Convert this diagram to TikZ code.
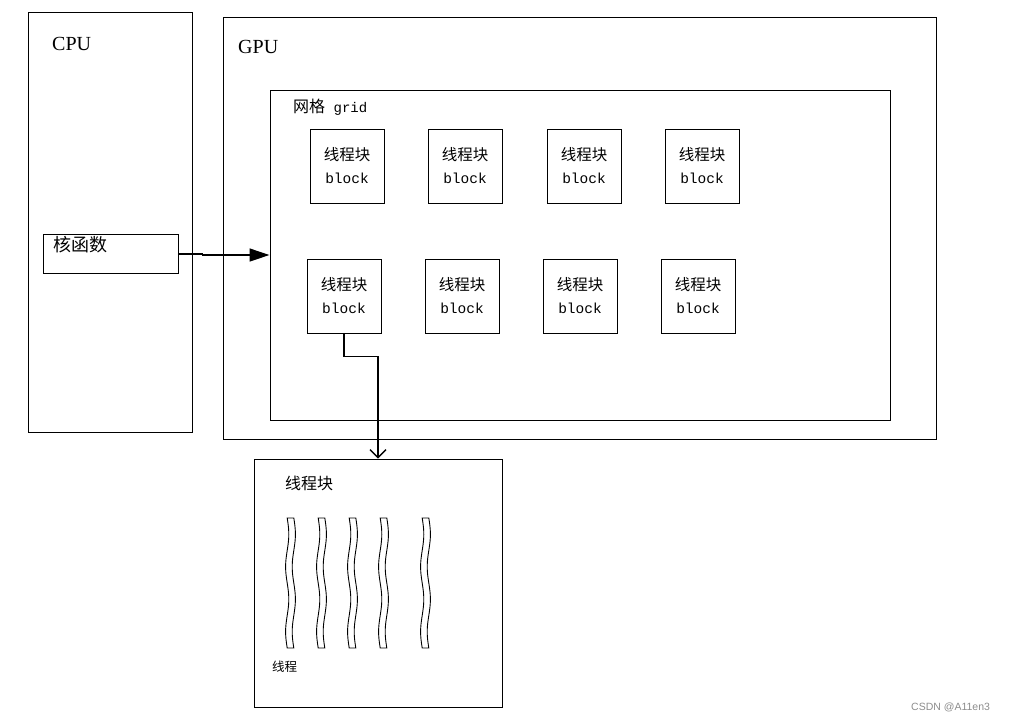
\documentclass[tikz,border=0pt]{standalone}
\usepackage{fontspec}
\setmainfont{Liberation Serif}
\newfontfamily\cjk{Noto Sans CJK SC}
\newfontfamily\monofont{Liberation Mono}
\newfontfamily\marksans{Liberation Sans}
\usetikzlibrary{arrows.meta}
\usetikzlibrary{positioning}

\begin{document}
\begin{tikzpicture}
[x = 1pt, y = -1pt, line cap = round,
frame/.style = {draw = linecolor, line width = 1pt, inner sep = 0pt},
blockbox/.style = {frame, minimum width = 74pt, minimum height = 74pt, align = center, font = \fontsize{15.5}{23}\selectfont},
title text/.style = {anchor = west, inner sep = 0pt},
thread/.style = {draw = linecolor, line width = 0.9pt, fill = white},
link/.style = {draw = linecolor, line width = 1.3pt}]

\colorlet{linecolor}{black}
\colorlet{markcolor}{black!45}

\useasboundingbox (0, 0) rectangle (1010, 721);

\node[frame, minimum width = 164pt, minimum height = 420pt] (cpu) at (110, 222) {};
\node[title text, font = \fontsize{20}{24}\selectfont] (cpu label) at (52, 44) {CPU};

\node[frame, minimum width = 713pt, minimum height = 422pt] (gpu) at (579.5, 228) {};
\node[title text, font = \fontsize{20}{24}\selectfont] (gpu label) at (238, 47) {GPU};

\node[frame, minimum width = 620pt, minimum height = 330pt] (grid) at (580, 255) {};
\node[title text, font = \fontsize{16}{18}\selectfont] (grid label) at (293, 107) {{\cjk 网格}{\monofont\fontsize{14}{18}\selectfont\ grid}};

\foreach \x/\y/\n in {347/166/1, 465/166/2, 584/166/3, 702/166/4, 344/296/5, 462/296/6, 580/296/7, 698/296/8}
\node[blockbox] (b\n) at (\x, \y) {{\cjk 线程块}\\{\monofont\fontsize{14.5}{23}\selectfont block}};

\node[frame, minimum width = 135pt, minimum height = 39pt] (kernel) at (110.5, 254) {};
\node[title text, font = \cjk\fontsize{18}{20}\selectfont] (kernel label) at (53, 245) {核函数};

\draw[link, -{Triangle[length = 20pt, width = 13pt]}] (kernel.east) -- +(24, 0) |- (grid.west);

\node[frame, minimum width = 248pt, minimum height = 248pt] (tb) at (378, 583) {};
\node[title text, font = \cjk\fontsize{16}{18}\selectfont] (tb label) at (285, 483) {线程块};

\draw[link, -{Straight Barb[length = 8pt, width = 16pt]}] (b5.south) -- +(0, 23) -| (tb.north);

\foreach \c in {290.5, 321.5, 352.5, 383.5, 425.5}
\draw[thread] plot[domain = 0:130, samples = 40, smooth] ({\c - 3.3 + 1.6*sin(\x/65*360)}, {518 + \x}) -- plot[domain = 130:0, samples = 40, smooth] ({\c + 3.3 + 1.6*sin(\x/65*360)}, {518 + \x}) -- cycle;
\node[title text, font = \cjk\fontsize{12.5}{14}\selectfont] (thread label) at (272, 667) {线程};

\node[title text, text = markcolor, font = \marksans\fontsize{10.5}{12}\selectfont] (mark) at (911, 707) {CSDN @A11en3};
\end{tikzpicture}
\end{document}
